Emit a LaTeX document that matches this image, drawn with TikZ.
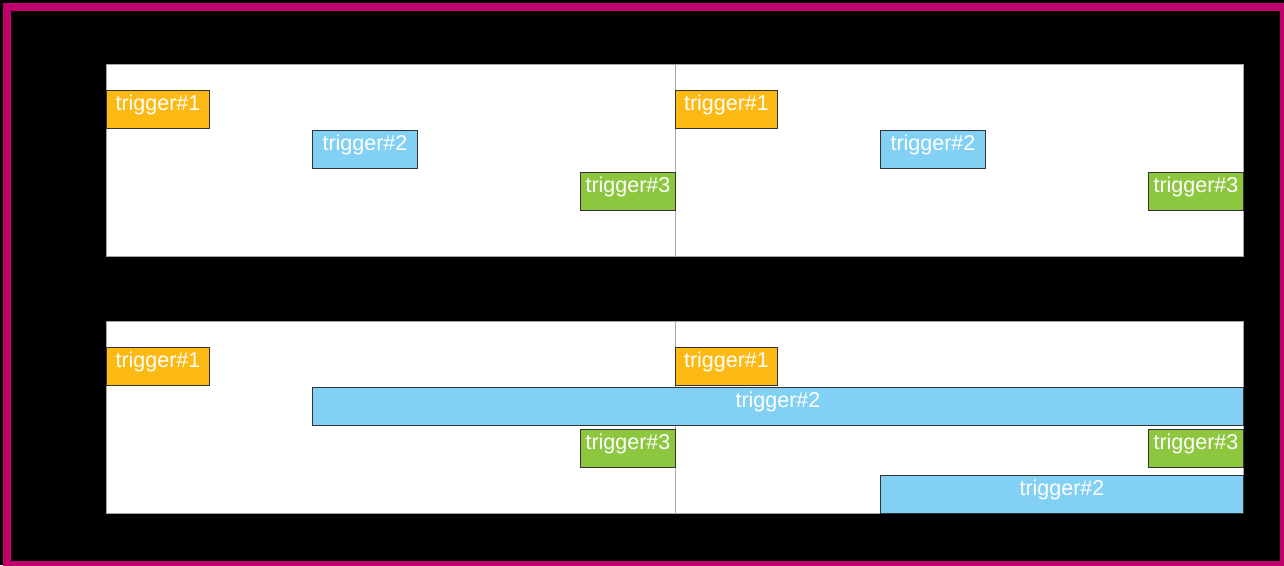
\documentclass[tikz,border=0pt]{standalone}
\usepackage{fontspec}
\setmainfont{Liberation Sans}
\usetikzlibrary{positioning}
\definecolor{trigorange}{HTML}{FDB913}
\definecolor{trigblue}{HTML}{83D0F5}
\definecolor{triggreen}{HTML}{8DC63F}
\definecolor{framemag}{HTML}{C2006B}
\tikzset{
  panel/.style={draw=gray!70, fill=white, line width=0.8pt},
  trig/.style={draw=black!80, line width=0.9pt, text=white, anchor=north west,
    font=\fontsize{21.5}{24}\selectfont, inner xsep=0pt, inner ysep=4.5pt,
    text height=15.5pt, text depth=13pt}
}
\begin{document}
\begin{tikzpicture}[x=1pt,y=-1pt]
  \useasboundingbox (0,0) rectangle (1284,565);
  \fill[black] (0,0) rectangle (1284,565);
  \draw[framemag, line width=8pt] (7,7) rectangle (1284,565);
  % upper panel
  \draw[panel] (106,64) rectangle (1243,256);
  \draw[gray!70, line width=0.8pt] (675,64) -- (675,256);
  \node[trig, fill=trigorange, minimum width=103pt] (upa1) at (106,90) {trigger\#1};
  \node[trig, fill=trigblue, minimum width=105pt] (upa2) at (312,130) {trigger\#2};
  \node[trig, fill=triggreen, minimum width=95pt] (upa3) at (580,172) {trigger\#3};
  \node[trig, fill=trigorange, minimum width=102pt] (upb1) at (675,90) {trigger\#1};
  \node[trig, fill=trigblue, minimum width=105pt] (upb2) at (880,130) {trigger\#2};
  \node[trig, fill=triggreen, minimum width=95pt] (upb3) at (1148,172) {trigger\#3};
  % lower panel
  \draw[panel] (106,321) rectangle (1243,513);
  \draw[gray!70, line width=0.8pt] (675,321) -- (675,513);
  \node[trig, fill=trigorange, minimum width=103pt] (loa1) at (106,347) {trigger\#1};
  \node[trig, fill=trigblue, minimum width=931pt] (loa2) at (312,387) {trigger\#2};
  \node[trig, fill=triggreen, minimum width=95pt] (loa3) at (580,429) {trigger\#3};
  \node[trig, fill=trigorange, minimum width=102pt] (lob1) at (675,347) {trigger\#1};
  \node[trig, fill=triggreen, minimum width=95pt] (lob3) at (1148,429) {trigger\#3};
  \node[trig, fill=trigblue, minimum width=363pt] (lob2) at (880,475) {trigger\#2};
\end{tikzpicture}
\end{document}
